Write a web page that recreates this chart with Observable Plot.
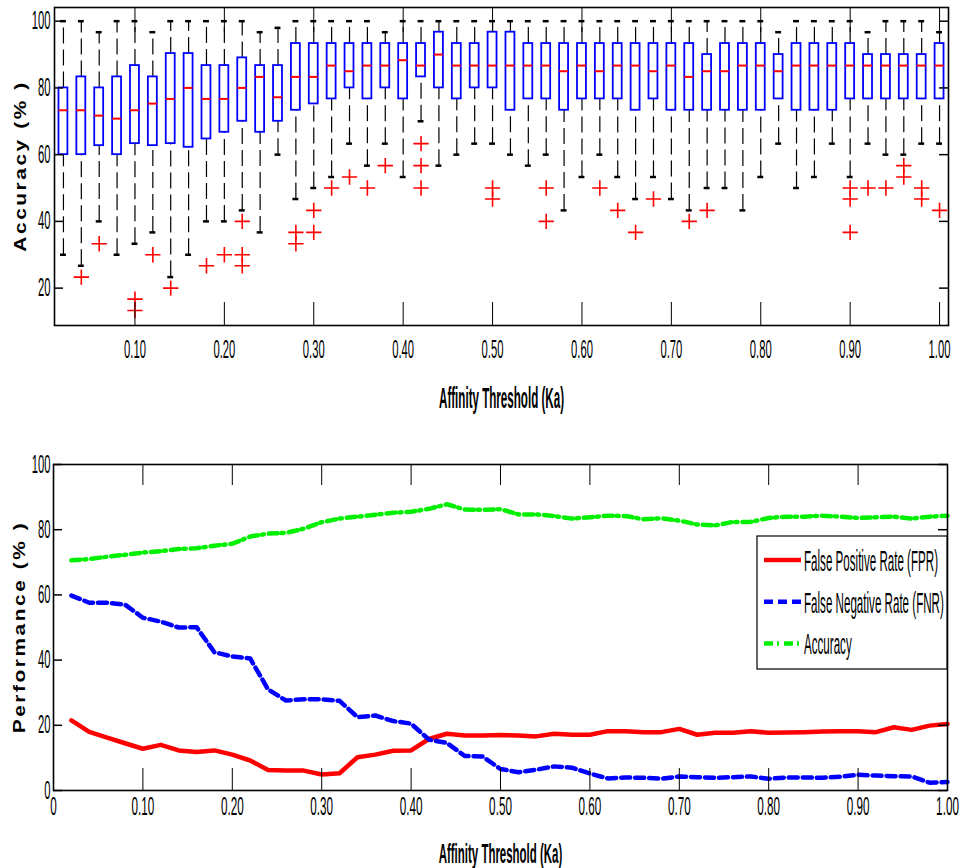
<!DOCTYPE html>
<html>
<head>
<meta charset="utf-8">
<script src="https://cdn.jsdelivr.net/npm/d3@7"></script>
<script src="https://cdn.jsdelivr.net/npm/@observablehq/plot@0.6"></script>
<style>
  body { margin: 0; background: #fff; }
  #chart { width: 961px; height: 868px; position: relative; overflow: hidden; background: #fff; }
  #chart svg { display: block; }
</style>
</head>
<body>
<div id="chart"></div>
<script>
// Affinity thresholds (Ka) shared by both panels
const thresholds = [
  0.02, 0.04, 0.06, 0.08, 0.10, 0.12, 0.14, 0.16, 0.18, 0.20,
  0.22, 0.24, 0.26, 0.28, 0.30, 0.32, 0.34, 0.36, 0.38, 0.40,
  0.42, 0.44, 0.46, 0.48, 0.50, 0.52, 0.54, 0.56, 0.58, 0.60,
  0.62, 0.64, 0.66, 0.68, 0.70, 0.72, 0.74, 0.76, 0.78, 0.80,
  0.82, 0.84, 0.86, 0.88, 0.90, 0.92, 0.94, 0.96, 0.98, 1.00
];

// Box plot statistics of accuracy (%) per threshold
const whiskerLow = [
  30, 26.7, 40, 30, 33.3, 36.7, 23.3, 30, 40, 40,
  43.3, 36.7, 60, 46.7, 50, 53.3, 63.3, 56.7, 63.3, 53.3,
  70, 56.7, 60, 63.3, 63.3, 60, 56.7, 60, 43.3, 53.3,
  60, 53.3, 46.7, 53.3, 46.7, 43.3, 50, 50, 43.3, 53.3,
  63.3, 50, 53.3, 63.3, 53.3, 63.3, 60, 60, 63.3, 63.3
];
const quartile1 = [
  60, 60, 62.7, 60, 63.3, 62.7, 63.3, 62.2, 64.7, 66.7,
  70, 66.7, 70, 73.3, 75.2, 76.7, 80, 76.7, 80, 76.7,
  83.3, 80, 76.7, 80, 80, 73.3, 76.7, 76.7, 73.3, 76.7,
  76.7, 76.7, 73.3, 76.7, 73.3, 73.3, 73.3, 73.3, 73.3, 73.3,
  76.7, 73.3, 73.3, 73.3, 76.7, 76.7, 76.7, 76.7, 76.7, 76.7
];
const medians = [
  73.3, 73.3, 71.7, 70.8, 73.3, 75.3, 76.7, 80, 76.7, 76.7,
  80, 83.3, 77.2, 83.3, 83.3, 86.7, 85, 86.7, 86.7, 88.3,
  86.7, 90, 86.7, 86.7, 86.7, 86.7, 86.7, 86.7, 85, 86.7,
  85, 86.7, 86.7, 85, 86.7, 83.3, 85, 85, 86.7, 86.7,
  85, 86.7, 86.7, 86.7, 86.7, 86.7, 86.7, 86.7, 86.7, 86.7
];
const quartile3 = [
  80, 83.3, 80, 83.3, 86.7, 83.3, 90.3, 90.3, 86.7, 86.7,
  89, 86.7, 86.7, 93.3, 93.3, 93.3, 93.3, 93.3, 93.3, 93.3,
  93.3, 96.7, 93.3, 93.3, 96.7, 96.7, 93.3, 93.3, 93.3, 93.3,
  93.3, 93.3, 93.3, 93.3, 93.3, 93.3, 90, 93.3, 93.3, 93.3,
  90, 93.3, 93.3, 93.3, 93.3, 90, 90, 90, 90, 93.3
];
const whiskerHigh = [
  100, 100, 96.7, 100, 100, 96.7, 100, 100, 100, 100,
  100, 96.7, 98, 100, 100, 100, 100, 100, 96.7, 100,
  100, 100, 100, 100, 100, 100, 100, 100, 100, 100,
  100, 100, 100, 100, 100, 100, 100, 100, 100, 100,
  96.7, 100, 100, 100, 100, 96.7, 100, 100, 100, 96.7
];
const outliers = [
  [], [23.3], [33.3], [], [16.7, 13.3], [30], [20], [], [26.7], [30],
  [40, 30, 26.7], [], [], [36.7, 33.3], [43.3, 36.7], [50], [53.3], [50], [56.7], [],
  [63.3, 56.7, 50], [], [], [], [50, 46.7], [], [], [50, 40], [], [],
  [50], [43.3], [36.7], [46.7], [], [40], [43.3], [], [], [],
  [], [], [], [], [50, 46.7, 36.7], [50], [50], [56.7, 53.3], [50, 46.7], [43.3]
];

// Performance curves (%) per threshold
const fpr = [
  21.5, 18.0, 16.2, 14.5, 12.8, 14.0, 12.3, 11.8, 12.3, 11.0,
  9.2, 6.3, 6.1, 6.1, 4.9, 5.3, 10.2, 11.0, 12.2, 12.3,
  15.8, 17.4, 16.9, 16.9, 17.0, 16.9, 16.6, 17.4, 17.1, 17.1,
  18.2, 18.2, 17.9, 17.9, 18.9, 17.1, 17.7, 17.7, 18.2, 17.7,
  17.8, 17.9, 18.1, 18.2, 18.2, 17.9, 19.4, 18.6, 19.9, 20.4
];
const fnr = [
  59.8, 57.6, 57.6, 57.0, 53.0, 51.8, 50.0, 50.1, 42.4, 41.1,
  40.5, 31.0, 27.6, 28.0, 28.0, 27.5, 22.5, 23.0, 21.3, 20.5,
  15.6, 14.6, 10.6, 10.4, 6.6, 5.6, 6.4, 7.4, 7.0, 5.2,
  3.7, 4.0, 3.9, 3.6, 4.3, 4.1, 3.9, 4.1, 4.3, 3.6,
  4.0, 4.0, 3.9, 4.2, 4.8, 4.6, 4.4, 4.3, 2.4, 2.6
];
const accuracy = [
  70.6, 71.0, 71.7, 72.3, 73.0, 73.4, 74.1, 74.3, 75.1, 75.7,
  77.9, 78.8, 79.0, 80.3, 82.3, 83.4, 84.0, 84.6, 85.2, 85.5,
  86.4, 87.8, 86.2, 86.1, 86.3, 84.7, 84.7, 84.2, 83.4, 83.8,
  84.3, 84.2, 83.2, 83.5, 82.8, 81.6, 81.3, 82.4, 82.4, 83.6,
  84.0, 84.0, 84.3, 84.0, 83.6, 83.8, 84.0, 83.4, 84.0, 84.3
];
const seriesNames = ["False Positive Rate (FPR)", "False Negative Rate (FNR)", "Accuracy"];

// Tick values
const topXTicks = [0.1, 0.2, 0.3, 0.4, 0.5, 0.6, 0.7, 0.8, 0.9, 1.0];
const topYTicks = [20, 40, 60, 80, 100];
const bottomXTicks = [0, 0.1, 0.2, 0.3, 0.4, 0.5, 0.6, 0.7, 0.8, 0.9, 1.0];
const bottomYTicks = [0, 20, 40, 60, 80, 100];

// Axis titles
const xTitle = "Affinity Threshold (Ka)";
const topYTitle = "Accuracy (% )";
const bottomYTitle = "Performance (% )";

// ---- derived tables ----
const boxes = thresholds.map((t, i) => ({
  t, lo: whiskerLow[i], q1: quartile1[i], med: medians[i], q3: quartile3[i], hi: whiskerHigh[i]
}));
const outlierPoints = thresholds.flatMap((t, i) => outliers[i].map(v => ({t, v})));
const curves = thresholds.map((t, i) => ({t, fpr: fpr[i], fnr: fnr[i], acc: accuracy[i]}));

const seriesStyle = [
  {stroke: "#ff0000", dash: null},
  {stroke: "#0000ff", dash: "9,5"},
  {stroke: "#00f000", dash: "9,4,2,5"}
];

const FONT = "'Liberation Sans', Arial, sans-serif";
const W = 961;
const fmtTick = d => d === 0 ? "0" : d.toFixed(2);

// squeeze text horizontally around each label's anchor
function reshapeText(elements, sx) {
  elements.forEach(el => {
    el.setAttribute("transform", (el.getAttribute("transform") || "") + ` scale(${sx},1)`);
  });
}
const textsOf = (svg, selector) => Array.from(svg.querySelectorAll(selector));
const textsWith = (svg, content) => Array.from(svg.querySelectorAll("text")).filter(t => t.textContent === content);

// rotated, widely spaced y-axis title centred on the plot frame
function yTitle(svg, text, margin, plotH) {
  d3.select(svg).append("text")
    .attr("transform", `translate(${margin.left - 28},${margin.top + plotH / 2}) rotate(-90) scale(1.3,1)`)
    .attr("text-anchor", "middle")
    .attr("font-family", FONT).attr("font-size", 16).attr("font-weight", "bold")
    .attr("fill", "#000").style("letter-spacing", "2px")
    .text(text);
}

// ---------------- top panel: accuracy box plots ----------------
const topH = 430, topM = {top: 7, right: 13, bottom: 105, left: 54};
const topPW = W - topM.left - topM.right;
const topPH = topH - topM.top - topM.bottom;
const halfBox = 0.005, halfCap = 0.0033;

const topPlot = Plot.plot({
  width: W, height: topH,
  marginTop: topM.top, marginRight: topM.right, marginBottom: topM.bottom, marginLeft: topM.left,
  style: {fontFamily: FONT, color: "#000", background: "#fff", overflow: "visible"},
  x: {domain: [0.01, 1.01]},
  y: {domain: [8.8, 104.1]},
  marks: [
    // whiskers
    Plot.ruleX(boxes, {x: "t", y1: "q3", y2: "hi", stroke: "#000", strokeWidth: 1.2, strokeDasharray: "16,6"}),
    Plot.ruleX(boxes, {x: "t", y1: "lo", y2: "q1", stroke: "#000", strokeWidth: 1.2, strokeDasharray: "16,6"}),
    Plot.ruleY(boxes, {y: "hi", x1: d => d.t - halfCap, x2: d => d.t + halfCap, stroke: "#000", strokeWidth: 2.5}),
    Plot.ruleY(boxes, {y: "lo", x1: d => d.t - halfCap, x2: d => d.t + halfCap, stroke: "#000", strokeWidth: 2.5}),
    // boxes and medians
    Plot.rect(boxes, {x1: d => d.t - halfBox, x2: d => d.t + halfBox, y1: "q1", y2: "q3",
      fill: "none", stroke: "#0000ff", strokeWidth: 1.8}),
    Plot.ruleY(boxes, {y: "med", x1: d => d.t - halfBox, x2: d => d.t + halfBox, stroke: "#ff0000", strokeWidth: 2}),
    // outliers
    Plot.dot(outlierPoints, {x: "t", y: "v", symbol: "plus", r: 5, stroke: "#ff0000", strokeWidth: 1.6}),
    // inward ticks on all four sides
    Plot.ruleX(topXTicks, {x: d => d, insetBottom: topPH - 25, stroke: "#000"}),
    Plot.ruleX(topXTicks, {x: d => d, insetTop: topPH - 23, stroke: "#000"}),
    Plot.ruleY(topYTicks, {y: d => d, insetRight: topPW - 9, stroke: "#000", strokeWidth: 1.5}),
    Plot.ruleY(topYTicks, {y: d => d, insetLeft: topPW - 9, stroke: "#000", strokeWidth: 1.5}),
    Plot.frame({stroke: "#000", strokeWidth: 1.6}),
    Plot.axisX({ticks: topXTicks, tickFormat: fmtTick, tickSize: 0, tickPadding: 15, fontSize: 25, label: null}),
    Plot.axisY({ticks: topYTicks, tickFormat: d => String(d), tickSize: 0, tickPadding: 4, fontSize: 25, label: null}),
    Plot.text([xTitle], {text: d => d, frameAnchor: "bottom", dy: 82, lineAnchor: "bottom",
      fontSize: 29, fontWeight: "bold"})
  ]
});
reshapeText(textsOf(topPlot, 'g[aria-label="x-axis tick label"] text'), 0.45);
reshapeText(textsOf(topPlot, 'g[aria-label="y-axis tick label"] text'), 0.45);
reshapeText(textsWith(topPlot, xTitle), 0.40);
yTitle(topPlot, topYTitle, topM, topPH);

// ---------------- bottom panel: performance curves ----------------
const botH = 438, botM = {top: 34, right: 14, bottom: 78, left: 53};
const botPW = W - botM.left - botM.right;
const botPH = botH - botM.top - botM.bottom;

const bottomPlot = Plot.plot({
  width: W, height: botH,
  marginTop: botM.top, marginRight: botM.right, marginBottom: botM.bottom, marginLeft: botM.left,
  style: {fontFamily: FONT, color: "#000", background: "#fff", overflow: "visible"},
  x: {domain: [0, 1]},
  y: {domain: [0, 100]},
  marks: [
    Plot.line(curves, {x: "t", y: "fpr", stroke: seriesStyle[0].stroke, strokeWidth: 4.5}),
    Plot.line(curves, {x: "t", y: "fnr", stroke: seriesStyle[1].stroke, strokeWidth: 4.5, strokeDasharray: seriesStyle[1].dash}),
    Plot.line(curves, {x: "t", y: "acc", stroke: seriesStyle[2].stroke, strokeWidth: 4.5, strokeDasharray: seriesStyle[2].dash}),
    Plot.ruleX(bottomXTicks, {x: d => d, insetBottom: botPH - 21, stroke: "#000"}),
    Plot.ruleX(bottomXTicks, {x: d => d, insetTop: botPH - 22, stroke: "#000"}),
    Plot.ruleY(bottomYTicks, {y: d => d, insetRight: botPW - 9, stroke: "#000", strokeWidth: 1.5}),
    Plot.ruleY(bottomYTicks, {y: d => d, insetLeft: botPW - 9, stroke: "#000", strokeWidth: 1.5}),
    Plot.frame({stroke: "#000", strokeWidth: 1.6}),
    Plot.axisX({ticks: bottomXTicks, tickFormat: fmtTick, tickSize: 0, tickPadding: 6, fontSize: 26, label: null}),
    Plot.axisY({ticks: bottomYTicks, tickFormat: d => String(d), tickSize: 0, tickPadding: 3, fontSize: 25, label: null}),
    Plot.text([xTitle], {text: d => d, frameAnchor: "bottom", dy: 72, lineAnchor: "bottom",
      fontSize: 28, fontWeight: "bold"})
  ]
});
reshapeText(textsOf(bottomPlot, 'g[aria-label="x-axis tick label"] text'), 0.45);
reshapeText(textsOf(bottomPlot, 'g[aria-label="y-axis tick label"] text'), 0.45);
reshapeText(textsWith(bottomPlot, xTitle), 0.41);
yTitle(bottomPlot, bottomYTitle, botM, botPH);

// legend box in the upper right of the curves panel
{
  const x0 = 757, y0 = 106, lw = W - botM.right - x0, lh = 133;
  const lg = d3.select(bottomPlot).append("g").attr("aria-label", "legend");
  lg.append("rect").attr("x", x0).attr("y", y0).attr("width", lw).attr("height", lh)
    .attr("fill", "#fff").attr("stroke", "#000").attr("stroke-width", 1.2);
  seriesNames.forEach((name, i) => {
    const cy = y0 + 24 + i * 41.7;
    lg.append("line").attr("x1", x0 + 7).attr("x2", x0 + 44).attr("y1", cy).attr("y2", cy)
      .attr("stroke", seriesStyle[i].stroke).attr("stroke-width", 4.5)
      .attr("stroke-dasharray", seriesStyle[i].dash);
    lg.append("text").attr("transform", `translate(${x0 + 47},${cy + 11}) scale(0.40,1)`)
      .attr("text-anchor", "start")
      .attr("font-family", FONT).attr("font-size", 29).attr("fill", "#000").text(name);
  });
}

const chart = document.getElementById("chart");
chart.append(topPlot, bottomPlot);
</script>
</body>
</html>
